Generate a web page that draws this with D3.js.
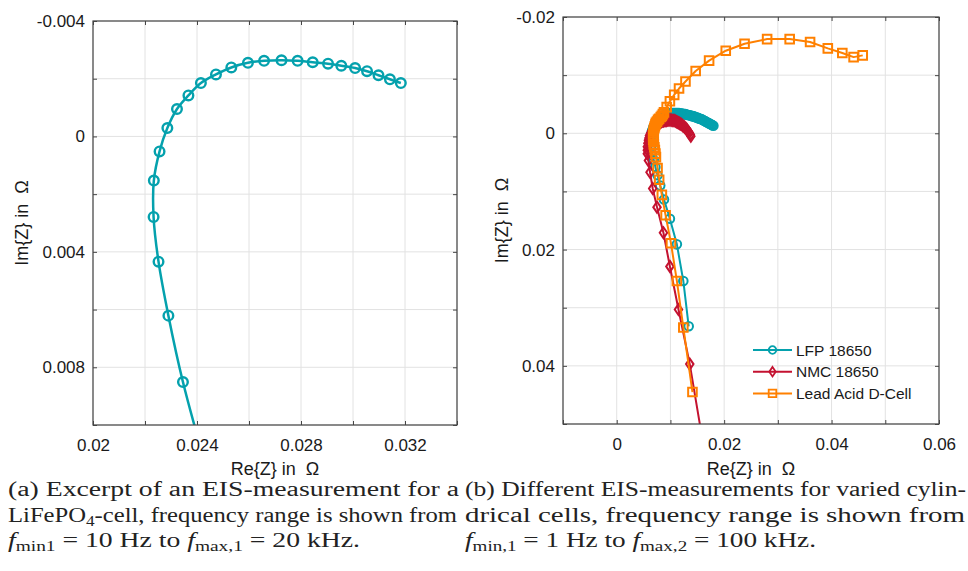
<!DOCTYPE html>
<html>
<head>
<meta charset="utf-8">
<script src="https://cdn.jsdelivr.net/npm/d3@7"></script>
<style>
  body { margin: 0; background: #fff; }
  svg { display: block; }
  .tick text { font-family: "Liberation Sans", Arial, sans-serif; fill: #1a1a1a; }
</style>
</head>
<body>
<svg id="chart" width="968" height="571"></svg>
<script>
// ---- panel (a): excerpt of one LiFePO4 measurement, points are [Re, Im]
const excerptXGrid = [0.02, 0.022, 0.024, 0.026, 0.028, 0.030, 0.032, 0.034];
const excerptYGrid = [-0.004, -0.002, 0, 0.002, 0.004, 0.006, 0.008, 0.010];
const excerptXTicks = [0.02, 0.024, 0.028, 0.032];
const excerptXLabels = ["0.02", "0.024", "0.028", "0.032"];
const excerptYTicks = [-0.004, 0, 0.004, 0.008];
const excerptYLabels = ["-0.004", "0", "0.004", "0.008"];
const excerptLfp = [
  [0.03184, -0.00185], [0.03142, -0.00198], [0.03098, -0.00212], [0.03054, -0.00226],
  [0.03008, -0.00237], [0.02955, -0.00245], [0.02904, -0.00252], [0.02845, -0.00257],
  [0.02787, -0.00262], [0.02725, -0.00264], [0.02658, -0.00262], [0.02596, -0.00255],
  [0.02532, -0.00239], [0.02473, -0.00215], [0.02415, -0.00185], [0.02367, -0.00142],
  [0.02323, -0.00095], [0.02286, -0.00029], [0.02256, 0.00052], [0.02234, 0.00153],
  [0.02233, 0.00279], [0.02252, 0.00434], [0.02290, 0.00621], [0.02346, 0.00851],
  [0.02430, 0.01130]
];

// ---- panel (b): three cylindrical cells
const cellsXGrid = [-0.01, 0, 0.01, 0.02, 0.03, 0.04, 0.05, 0.06];
const cellsYGrid = [-0.02, -0.01, 0, 0.01, 0.02, 0.03, 0.04, 0.05];
const cellsXTicks = [0, 0.02, 0.04, 0.06];
const cellsXLabels = ["0", "0.02", "0.04", "0.06"];
const cellsYTicks = [-0.02, 0, 0.02, 0.04];
const cellsYLabels = ["-0.02", "0", "0.02", "0.04"];
const lfp18650 = [
  [0.0134, 0.0332], [0.0124, 0.0254], [0.0112, 0.0191], [0.0099, 0.0147],
  [0.0088, 0.0114], [0.0081, 0.0090], [0.0076, 0.0072], [0.0072, 0.0058],
  [0.0069, 0.0046], [0.0066, 0.0035], [0.0064, 0.0025], [0.0063, 0.0016],
  [0.0063, 0.0010], [0.0064, 0.0004], [0.0065, -0.0001], [0.0066, -0.0005],
  [0.0068, -0.0010], [0.0070, -0.0014], [0.0072, -0.0017], [0.0074, -0.0020],
  [0.0076, -0.0022], [0.0078, -0.0024], [0.0080, -0.0026], [0.0082, -0.0027],
  [0.0084, -0.0029], [0.0086, -0.0030], [0.0088, -0.0031], [0.0090, -0.0032],
  [0.0092, -0.0033], [0.0094, -0.0033], [0.0096, -0.0034], [0.0098, -0.0034],
  [0.0100, -0.0035], [0.0102, -0.0035], [0.0104, -0.0035], [0.0106, -0.0035],
  [0.0108, -0.0035], [0.0110, -0.0035], [0.0112, -0.0035], [0.0114, -0.0035],
  [0.0116, -0.0035], [0.0118, -0.0034], [0.0120, -0.0034], [0.0122, -0.0034],
  [0.0124, -0.0033], [0.0126, -0.0033], [0.0128, -0.0033], [0.0130, -0.0032],
  [0.0132, -0.0032], [0.0134, -0.0031], [0.0136, -0.0031], [0.0138, -0.0030],
  [0.0140, -0.0030], [0.0142, -0.0029], [0.0144, -0.0029], [0.0146, -0.0028],
  [0.0148, -0.0027], [0.0150, -0.0027], [0.0152, -0.0026], [0.0154, -0.0025],
  [0.0156, -0.0025], [0.0158, -0.0024], [0.0160, -0.0023], [0.0162, -0.0022],
  [0.0164, -0.0021], [0.0166, -0.0020], [0.0168, -0.0019], [0.0170, -0.0018],
  [0.0172, -0.0017], [0.0174, -0.0016], [0.0176, -0.0015], [0.0178, -0.0014],
  [0.0180, -0.0013]
];
const nmc18650 = [
  [0.0162, 0.0540], [0.0136, 0.0397], [0.0115, 0.0303], [0.0099, 0.0229],
  [0.0087, 0.0171], [0.0075, 0.0127], [0.0067, 0.0095], [0.0062, 0.0067],
  [0.0059, 0.0047], [0.0057, 0.0035], [0.0057, 0.0029], [0.0057, 0.0023],
  [0.0058, 0.0017], [0.0059, 0.0012], [0.0060, 0.0008], [0.0061, 0.0004],
  [0.0063, 0.0000], [0.0065, -0.0004], [0.0067, -0.0007], [0.0069, -0.0010],
  [0.0071, -0.0012], [0.0073, -0.0014], [0.0075, -0.0016], [0.0077, -0.0017],
  [0.0079, -0.0018], [0.0081, -0.0019], [0.0083, -0.0020], [0.0085, -0.0021],
  [0.0087, -0.0021], [0.0089, -0.0022], [0.0091, -0.0022], [0.0093, -0.0022],
  [0.0095, -0.0023], [0.0097, -0.0023], [0.0099, -0.0023], [0.0101, -0.0023],
  [0.0103, -0.0022], [0.0105, -0.0022], [0.0107, -0.0022], [0.0109, -0.0021],
  [0.0111, -0.0020], [0.0113, -0.0019], [0.0115, -0.0018], [0.0117, -0.0017],
  [0.0119, -0.0016], [0.0121, -0.0015], [0.0123, -0.0013], [0.0125, -0.0012],
  [0.0127, -0.0010], [0.0129, -0.0008], [0.0131, -0.0006], [0.0133, -0.0003],
  [0.0135, -0.0001], [0.0137, 0.0002], [0.0138, 0.0005]
];
const leadAcid = [
  [0.0141, 0.0445], [0.0124, 0.0334], [0.0112, 0.0254], [0.0101, 0.0189],
  [0.0091, 0.0141], [0.0084, 0.0106], [0.0079, 0.0080], [0.0076, 0.0060],
  [0.0073, 0.0041], [0.0072, 0.0035], [0.0071, 0.0029], [0.0070, 0.0024],
  [0.0069, 0.0019], [0.0069, 0.0015], [0.0068, 0.0011], [0.0068, 0.0007],
  [0.0068, 0.0004], [0.0068, 0.0000], [0.0069, -0.0003], [0.0069, -0.0006],
  [0.0070, -0.0009], [0.0071, -0.0012], [0.0072, -0.0015], [0.0073, -0.0018],
  [0.0075, -0.0020], [0.0077, -0.0023], [0.0079, -0.0025], [0.0082, -0.0028],
  [0.0084, -0.0030], [0.0086, -0.0033], [0.0088, -0.0036], [0.0093, -0.0045],
  [0.0099, -0.0055], [0.0107, -0.0066], [0.0116, -0.0077], [0.0128, -0.0089],
  [0.0147, -0.0107], [0.0172, -0.0125], [0.0203, -0.0142], [0.0238, -0.0154],
  [0.0280, -0.0162], [0.0322, -0.0162], [0.0360, -0.0157], [0.0393, -0.0146],
  [0.0420, -0.0138], [0.0441, -0.0131], [0.0458, -0.0134]
];
const cellNames = ["LFP 18650", "NMC 18650", "Lead Acid D-Cell"];

// captions, one array of [text, style] pieces per line
const captionA = [
  [["(a) Excerpt of an EIS-measurement for a", ""]],
  [["LiFePO", ""], ["4", "sub"], ["-cell, frequency range is shown from", ""]],
  [["f", "it"], ["min1", "sub"], [" = 10 Hz to ", ""], ["f", "it"], ["max,1", "sub"], [" = 20 kHz.", ""]]
];
const captionB = [
  [["(b) Different EIS-measurements for varied cylin-", ""]],
  [["drical cells, frequency range is shown from", ""]],
  [["f", "it"], ["min,1", "sub"], [" = 1 Hz to ", ""], ["f", "it"], ["max,2", "sub"], [" = 100 kHz.", ""]]
];

const teal = "#04a1ad", red = "#c41230", orange = "#ff8000";
const gridColor = "#e2e2e2", axisColor = "#454545";
const sansFont = "'Liberation Sans', Arial, sans-serif";
const serifFont = "'Liberation Serif'";

const svg = d3.select("#chart");

function markerPath(type, s) {
  if (type == "diamond") return "M0," + (-s * 1.25) + "L" + (s * 0.85) + ",0L0," + (s * 1.25) + "L" + (-s * 0.85) + ",0Z";
  if (type == "square") return "M" + (-s) + "," + (-s) + "h" + (2 * s) + "v" + (2 * s) + "h" + (-2 * s) + "Z";
  return d3.symbol(d3.symbolCircle, Math.PI * s * s)();
}

function drawPanel(cfg) {
  let x = d3.scaleLinear().domain(cfg.xDomain).range([cfg.left, cfg.right]);
  let y = d3.scaleLinear().domain(cfg.yDomain).range([cfg.top, cfg.bottom]);
  let g = svg.append("g");

  // grid
  g.append("g").selectAll("line").data(cfg.xGrid).join("line")
    .attr("x1", d => x(d)).attr("x2", d => x(d))
    .attr("y1", cfg.top).attr("y2", cfg.bottom)
    .attr("stroke", gridColor).attr("stroke-width", 1);
  g.append("g").selectAll("line").data(cfg.yGrid).join("line")
    .attr("y1", d => y(d)).attr("y2", d => y(d))
    .attr("x1", cfg.left).attr("x2", cfg.right)
    .attr("stroke", gridColor).attr("stroke-width", 1);

  // clip to plot box
  g.append("clipPath").attr("id", cfg.id + "-clip")
    .append("rect")
    .attr("x", cfg.left).attr("y", cfg.top)
    .attr("width", cfg.right - cfg.left).attr("height", cfg.bottom - cfg.top);
  let plot = g.append("g").attr("clip-path", "url(#" + cfg.id + "-clip)");

  cfg.series.forEach(s => {
    let line = d3.line().x(d => x(d[0])).y(d => y(d[1])).curve(s.curve || d3.curveLinear);
    plot.append("path")
      .attr("d", line(s.data))
      .attr("fill", "none")
      .attr("stroke", s.color)
      .attr("stroke-width", s.width)
      .attr("stroke-linejoin", "round");
    plot.append("g").selectAll("path").data(s.data).join("path")
      .attr("transform", d => "translate(" + x(d[0]) + "," + y(d[1]) + ")")
      .attr("d", markerPath(s.marker, s.size))
      .attr("fill", "none")
      .attr("stroke", s.color)
      .attr("stroke-width", s.markerWidth);
  });

  // inward ticks on all four sides
  let tickAxes = [
    [d3.axisBottom(x).tickValues(cfg.xGrid), "translate(0," + cfg.bottom + ")"],
    [d3.axisTop(x).tickValues(cfg.xGrid), "translate(0," + cfg.top + ")"],
    [d3.axisLeft(y).tickValues(cfg.yGrid), "translate(" + cfg.left + ",0)"],
    [d3.axisRight(y).tickValues(cfg.yGrid), "translate(" + cfg.right + ",0)"]
  ];
  tickAxes.forEach(([axis, tr]) => {
    let a = g.append("g").attr("transform", tr)
      .call(axis.tickSize(-4).tickFormat(""));
    a.select(".domain").remove();
    a.selectAll("line").attr("stroke", axisColor);
  });

  // tick labels
  let xLab = g.append("g").attr("transform", "translate(0," + cfg.bottom + ")")
    .call(d3.axisBottom(x).tickValues(cfg.xTicks).tickSize(0).tickPadding(14)
      .tickFormat((d, i) => cfg.xLabels[i]));
  let yLab = g.append("g").attr("transform", "translate(" + cfg.left + ",0)")
    .call(d3.axisLeft(y).tickValues(cfg.yTicks).tickSize(0).tickPadding(8)
      .tickFormat((d, i) => cfg.yLabels[i]));
  [xLab, yLab].forEach(a => {
    a.select(".domain").remove();
    a.selectAll("text").style("font-size", "17px").style("font-family", sansFont);
  });

  // box
  g.append("rect")
    .attr("x", cfg.left).attr("y", cfg.top)
    .attr("width", cfg.right - cfg.left).attr("height", cfg.bottom - cfg.top)
    .attr("fill", "none").attr("stroke", axisColor).attr("stroke-width", 1.2);

  // axis titles
  g.append("text")
    .attr("x", (cfg.left + cfg.right) / 2).attr("y", 469).attr("dy", "0.35em")
    .attr("text-anchor", "middle").attr("xml:space", "preserve")
    .style("font-family", sansFont).style("font-size", "18px").attr("fill", "#1a1a1a")
    .text("Re{Z} in  Ω");
  g.append("text")
    .attr("transform", "translate(" + cfg.yTitleX + "," + (cfg.top + cfg.bottom) / 2 + ") rotate(-90)")
    .attr("dy", "0.35em")
    .attr("text-anchor", "middle").attr("xml:space", "preserve")
    .style("font-family", sansFont).style("font-size", "18px").attr("fill", "#1a1a1a")
    .text("Im{Z} in  Ω");

  return { x: x, y: y, g: g };
}

drawPanel({
  id: "pa", left: 93, right: 457, top: 21, bottom: 425,
  xDomain: [0.02, 0.034], yDomain: [-0.004, 0.010],
  xGrid: excerptXGrid, yGrid: excerptYGrid,
  xTicks: excerptXTicks, xLabels: excerptXLabels,
  yTicks: excerptYTicks, yLabels: excerptYLabels,
  yTitleX: 22,
  series: [
    { data: excerptLfp, color: teal, marker: "circle", size: 4.8, width: 2.5, markerWidth: 2.4, curve: d3.curveCatmullRom }
  ]
});

let panelB = drawPanel({
  id: "pb", left: 563, right: 939, top: 17, bottom: 424,
  xDomain: [-0.01, 0.06], yDomain: [-0.02, 0.05],
  xGrid: cellsXGrid, yGrid: cellsYGrid,
  xTicks: cellsXTicks, xLabels: cellsXLabels,
  yTicks: cellsYTicks, yLabels: cellsYLabels,
  yTitleX: 502,
  series: [
    { data: lfp18650, color: teal, marker: "circle", size: 4.3, width: 2, markerWidth: 2 },
    { data: nmc18650, color: red, marker: "diamond", size: 4.4, width: 2, markerWidth: 2 },
    { data: leadAcid, color: orange, marker: "square", size: 4.3, width: 2, markerWidth: 2 }
  ]
});

// legend (no box)
const legendStyles = [[teal, "circle"], [red, "diamond"], [orange, "square"]];
let legend = panelB.g.append("g").selectAll("g").data(cellNames).join("g")
  .attr("transform", (d, i) => "translate(753," + (350 + i * 21.7) + ")");
legend.append("line")
  .attr("x1", 0).attr("x2", 39)
  .attr("stroke", (d, i) => legendStyles[i][0]).attr("stroke-width", 2);
legend.append("path")
  .attr("transform", "translate(19.5,0)")
  .attr("d", (d, i) => markerPath(legendStyles[i][1], 3.8))
  .attr("fill", "none")
  .attr("stroke", (d, i) => legendStyles[i][0]).attr("stroke-width", 1.8);
legend.append("text")
  .attr("x", 43).attr("dy", "0.36em")
  .style("font-family", sansFont).style("font-size", "15.5px").attr("fill", "#1a1a1a")
  .text(d => d);

// captions
function drawCaption(lines, x0, widths) {
  lines.forEach((pieces, i) => {
    let t = svg.append("text")
      .attr("x", x0).attr("y", 496 + i * 25.5)
      .attr("xml:space", "preserve")
      .style("font-family", serifFont).style("font-size", "20px").attr("fill", "#222")
      .attr("textLength", widths[i]).attr("lengthAdjust", "spacingAndGlyphs");
    let shifted = false;
    pieces.forEach(([txt, kind]) => {
      let ts = t.append("tspan").text(txt);
      if (kind == "it") ts.style("font-style", "italic");
      if (kind == "sub") {
        ts.attr("dy", 4).style("font-size", "14px");
        shifted = true;
      } else if (shifted) {
        ts.attr("dy", -4);
        shifted = false;
      }
    });
  });
}
drawCaption(captionA, 8, [451, 449, 352]);
drawCaption(captionB, 465, [501, 500, 351]);
</script>
</body>
</html>
